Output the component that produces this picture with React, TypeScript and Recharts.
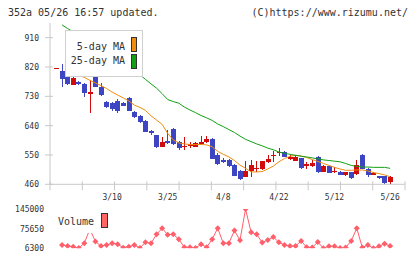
import { ComposedChart, Bar, Line, XAxis, YAxis } from 'recharts'

// daily candles, oldest first; the last session is 5/26
const opens = [
  816, 809, 790, 765, 775, 768, 738, 788, 758, 714,
  709, 717, 709, 725, 683, 670, 654, 625, 611, 575,
  592, 630, 591, 573, 577, 575, 583, 589, 599, 550,
  535, 535, 519, 502, 483, 502, 509, 507, 527, 546,
  555, 560, 538, 532, 540, 515, 517, 545, 499, 515,
  500, 499, 488, 497, 491, 550, 507, 490, 484, 485,
  466,
]
const highs = [
  817, 829, 792, 793, 777, 770, 780, 790, 770, 717,
  712, 721, 712, 727, 686, 672, 656, 627, 612, 604,
  627, 632, 593, 606, 591, 590, 608, 607, 601, 556,
  542, 537, 521, 505, 532, 535, 530, 532, 550, 563,
  571, 562, 550, 550, 542, 527, 534, 547, 519, 517,
  514, 501, 499, 499, 535, 552, 509, 498, 486, 487,
  487,
]
const lows = [
  815, 758, 766, 765, 765, 729, 678, 758, 732, 694,
  685, 678, 699, 684, 663, 647, 620, 611, 572, 574,
  585, 580, 564, 565, 570, 573, 582, 586, 537, 518,
  525, 514, 484, 472, 481, 483, 497, 505, 525, 527,
  546, 543, 536, 530, 507, 506, 512, 494, 497, 494,
  494, 488, 486, 475, 489, 506, 483, 488, 476, 461,
  461,
]
const closes = [
  816, 783, 768, 785, 767, 739, 742, 760, 734, 698,
  690, 686, 701, 686, 668, 652, 622, 617, 574, 591,
  588, 583, 572, 579, 583, 588, 591, 600, 539, 521,
  527, 516, 486, 476, 501, 519, 511, 530, 538, 551,
  560, 545, 545, 544, 509, 521, 526, 498, 516, 496,
  502, 490, 497, 478, 519, 508, 490, 496, 478, 465,
  482,
]
const ma5 = [
  null, null, null, null, 795, 788, 779, 771, 763, 754,
  743, 734, 725, 716, 703, 696, 687, 670, 657, 644,
  616, 596, 587, 584, 582, 582, 582, 581, 575, 561,
  552, 544, 533, 519, 509, 498, 498, 499, 507, 516,
  529, 539, 546, 549, 547, 542, 536, 530, 524, 518,
  512, 507, 503, 503, 504, 504, 501, 496, 493, 489,
  483,
]
const ma25 = [
  null, 949, 938, 928, 918, 907, 896, 884, 872, 860,
  848, 837, 826, 815, 805, 796, 782, 768, 755, 738,
  720, 714, 709, 697, 688, 680, 671, 664, 656, 645,
  637, 628, 619, 608, 598, 591, 584, 578, 571, 566,
  559, 555, 552, 549, 546, 544, 541, 538, 535, 533,
  531, 529, 524, 518, 515, 513, 513, 512, 512, 512,
  509,
]
const volumes = [
  null, 18000, 14400, 12000, 7000, 24000, 74000, 30000, 14400, 18000,
  24000, 20400, 8400, 12000, 18000, 7500, 27500, 24000, 55700, 76900,
  54300, 55700, 38100, 9800, 9800, 7400, 20800, 9800, 38100, 76900,
  24000, 24000, 69100, 34500, 145000, 62800, 55700, 26800, 35600, 46200,
  27500, 18000, 14400, 14400, 32100, 9800, 9100, 28500, 6800, 13400,
  13400, 7000, 9100, 32100, 76900, 9100, 18000, 6300, 13400, 22200,
  14400,
]

const dateLabels = ['3/10', '3/25', '4/8', '4/22', '5/12', '5/26']
const dateLabelIdx = [10, 20, 30, 40, 50, 60]
const priceTicks = [460, 550, 640, 730, 820, 910]
const volumeTicks = [6300, 75650, 145000]

const RED = '#d20a0a'
const BLUE = '#3d45c3'
const ORANGE = '#f08c10'
const GREEN = '#12a012'
const PINK = '#ff5f6b'
const AXIS = '#c8c8c8'
const TEXT = '#333'
const MONO = "'DejaVu Sans Mono', monospace"

const X_MIN = -1.17
const X_MAX = 62.68
// the bottom axis carries 11 evenly spaced marks
const markTicks = Array.from({ length: 12 }, (_, k) =>
  Number((X_MIN + (k * (X_MAX - X_MIN)) / 11).toFixed(4))
)

const rows = opens.map((open, i) => ({
  i,
  open,
  close: closes[i],
  high: highs[i],
  low: lows[i],
  range: [lows[i], highs[i]],
  ma5: ma5[i],
  ma25: ma25[i],
  vol: volumes[i],
}))

function Candle(props: any) {
  const { x, y, width, height, payload } = props
  if (x == null || y == null) return null
  const { open, close, high, low } = payload
  const top = Math.min(y, y + height)
  const span = Math.abs(height)
  const pos = (v: number) => (high === low ? top : top + (span * (high - v)) / (high - low))
  const color = close >= open ? RED : BLUE
  const mid = Math.round(x + width / 2)
  const bodyTop = pos(Math.max(open, close))
  const bodyBottom = pos(Math.min(open, close))
  return (
    <g shapeRendering="crispEdges">
      <line x1={mid + 0.5} x2={mid + 0.5} y1={top} y2={top + span} stroke={color} />
      <rect x={mid - 2} y={bodyTop} width={5} height={Math.max(bodyBottom - bodyTop, 1)} fill={color} />
    </g>
  )
}

function Diamond(props: any) {
  const { cx, cy, index } = props
  if (cx == null || cy == null || index === 6) return <g key={index} />
  return (
    <polygon
      key={index}
      points={`${cx},${cy - 3} ${cx + 3},${cy} ${cx},${cy + 3} ${cx - 3},${cy}`}
      fill={PINK}
    />
  )
}

function PriceTick({ x, y, payload }: any) {
  return (
    <g>
      <line x1={x - 5} x2={x + 3} y1={y} y2={y} stroke={AXIS} />
      <text x={x - 11} y={y + 3} textAnchor="end" fontSize={8} fontFamily={MONO} fill={TEXT}>
        {payload.value}
      </text>
    </g>
  )
}

function VolumeTick({ x, y, payload }: any) {
  return (
    <text x={x - 6} y={y + 3} textAnchor="end" fontSize={8} fontFamily={MONO} fill={TEXT}>
      {payload.value}
    </text>
  )
}

function DateTick({ x, y, payload }: any) {
  const k = dateLabelIdx.indexOf(payload.value)
  if (k >= 0) {
    return (
      <text x={x} y={y + 15.5} textAnchor="middle" fontSize={8} fontFamily={MONO} fill={TEXT}>
        {dateLabels[k]}
      </text>
    )
  }
  return <line x1={x} x2={x} y1={y - 3} y2={y + 6} stroke={AXIS} />
}

const swatch = (color: string, left: number, top: number) => ({
  position: 'absolute' as const,
  left,
  top,
  width: 6,
  height: 15,
  boxSizing: 'border-box' as const,
  border: '1px solid #333',
  background: color,
})

export default function App() {
  return (
    <div
      style={{
        position: 'absolute',
        left: 0,
        top: 0,
        width: 420,
        height: 259,
        background: '#fff',
        fontFamily: MONO,
        color: TEXT,
        overflow: 'hidden',
      }}
    >
      <div style={{ position: 'absolute', left: 0, top: 0 }}>
        <ComposedChart width={420} height={210} data={rows} margin={{ top: 23, right: 15, bottom: 0, left: 0 }}>
          <XAxis
            dataKey="i"
            type="number"
            domain={[X_MIN, X_MAX]}
            allowDataOverflow
            ticks={[...markTicks, ...dateLabelIdx]}
            interval={0}
            tickSize={0}
            tickMargin={0}
            height={25.7}
            axisLine={{ stroke: AXIS }}
            tick={<DateTick />}
          />
          <YAxis
            type="number"
            domain={[460, 955]}
            allowDataOverflow
            ticks={priceTicks}
            interval={0}
            tickSize={0}
            tickMargin={0}
            width={50}
            axisLine={{ stroke: AXIS }}
            tick={<PriceTick />}
          />
          <Bar dataKey="range" barSize={5} shape={<Candle />} isAnimationActive={false} />
          <Line dataKey="ma5" type="linear" stroke={ORANGE} strokeWidth={1} dot={false} isAnimationActive={false} />
          <Line dataKey="ma25" type="linear" stroke={GREEN} strokeWidth={1} dot={false} isAnimationActive={false} />
        </ComposedChart>
      </div>

      <div style={{ position: 'absolute', left: 0, top: 200 }}>
        <ComposedChart width={420} height={59} data={rows} margin={{ top: 9, right: 15, bottom: 10.7, left: 0 }}>
          <XAxis dataKey="i" type="number" domain={[X_MIN, X_MAX]} allowDataOverflow hide />
          <YAxis
            type="number"
            domain={[6300, 145000]}
            allowDataOverflow
            ticks={volumeTicks}
            interval={0}
            tickSize={0}
            tickMargin={0}
            width={50}
            axisLine={false}
            tickLine={false}
            tick={<VolumeTick />}
          />
          <Line dataKey="vol" type="linear" stroke={PINK} strokeWidth={1} dot={Diamond} isAnimationActive={false} />
        </ComposedChart>
      </div>

      {/* header */}
      <div style={{ position: 'absolute', left: 8, top: 7, fontSize: 10, lineHeight: '12px', whiteSpace: 'pre' }}>
        352a 05/26 16:57 updated.
      </div>
      <div style={{ position: 'absolute', right: 12, top: 7, fontSize: 10, lineHeight: '12px', whiteSpace: 'pre' }}>
        (C)https://www.rizumu.net/
      </div>

      {/* price legend */}
      <div
        style={{
          position: 'absolute',
          left: 65,
          top: 30,
          width: 78,
          height: 47,
          boxSizing: 'border-box',
          border: '1px solid #d0d0d0',
          background: '#fff',
          fontSize: 10,
          lineHeight: '12px',
        }}
      >
        <div style={{ position: 'absolute', left: 0, top: 9.5, width: 59, textAlign: 'right', whiteSpace: 'pre' }}>5-day MA</div>
        <div style={{ position: 'absolute', left: 0, top: 24, width: 59, textAlign: 'right', whiteSpace: 'pre' }}>25-day MA</div>
        <div style={swatch(ORANGE, 65, 6)} />
        <div style={swatch(GREEN, 65, 23)} />
      </div>

      {/* volume legend */}
      <div style={{ position: 'absolute', left: 55, top: 210, width: 56, height: 23, background: '#fff', fontSize: 10, lineHeight: '12px' }}>
        <div style={{ position: 'absolute', left: 3, top: 6, whiteSpace: 'pre' }}>Volume</div>
        <div style={{ ...swatch('#ff6666', 46, 3), width: 7 }} />
      </div>
    </div>
  )
}
